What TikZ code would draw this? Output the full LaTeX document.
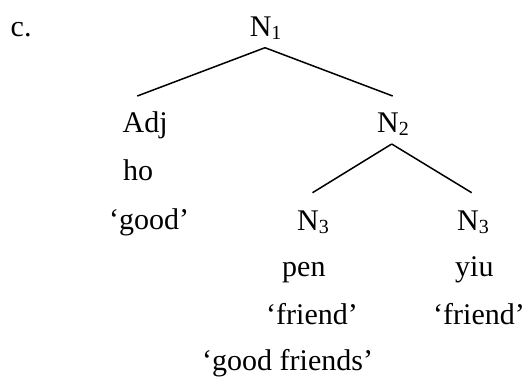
\documentclass[tikz,border=0pt]{standalone}
\usepackage{fontspec}
\setmainfont{Liberation Serif}
\newcommand\mysub[1]{\raisebox{-3.3pt}{\fontsize{20}{20}\selectfont #1}}
\begin{document}
\begin{tikzpicture}[x=1pt,y=1pt,
  lbl/.style={anchor=base west,inner sep=0pt,font=\fontsize{30}{30}\selectfont},
  edge/.style={line width=1.5pt}]
\useasboundingbox (0,0) rectangle (526,-376);
\node[lbl] (c) at (10.5,-36.5) {c.};
\node[lbl] (n1) at (249.6,-36) {N\mysub{1}};
\node[lbl] (adj) at (122.5,-132) {Adj};
\node[lbl] (ho) at (123,-180) {ho};
\node[lbl] (good) at (109,-229) {‘good’};
\node[lbl] (n2) at (377,-132) {N\mysub{2}};
\node[lbl] (n3a) at (297,-230) {N\mysub{3}};
\node[lbl] (pen) at (282,-276) {pen};
\node[lbl] (fa) at (266,-324) {‘friend’};
\node[lbl] (n3b) at (457,-230) {N\mysub{3}};
\node[lbl] (yiu) at (455,-276) {yiu};
\node[lbl] (fb) at (433,-324) {‘friend’};
\node[lbl] (gf) at (202,-370) {‘good friends’};
\draw[edge] ([xshift=15.4pt,yshift=-11.7pt]n1.base west) -- ([xshift=14.8pt,yshift=36pt]adj.base west);
\draw[edge] ([xshift=15.4pt,yshift=-11.7pt]n1.base west) -- ([xshift=15.7pt,yshift=36pt]n2.base west);
\draw[edge] ([xshift=14.7pt,yshift=-12pt]n2.base west) -- ([xshift=15.5pt,yshift=37.3pt]n3a.base west);
\draw[edge] ([xshift=14.7pt,yshift=-12pt]n2.base west) -- ([xshift=14.7pt,yshift=37.3pt]n3b.base west);
\end{tikzpicture}
\end{document}
